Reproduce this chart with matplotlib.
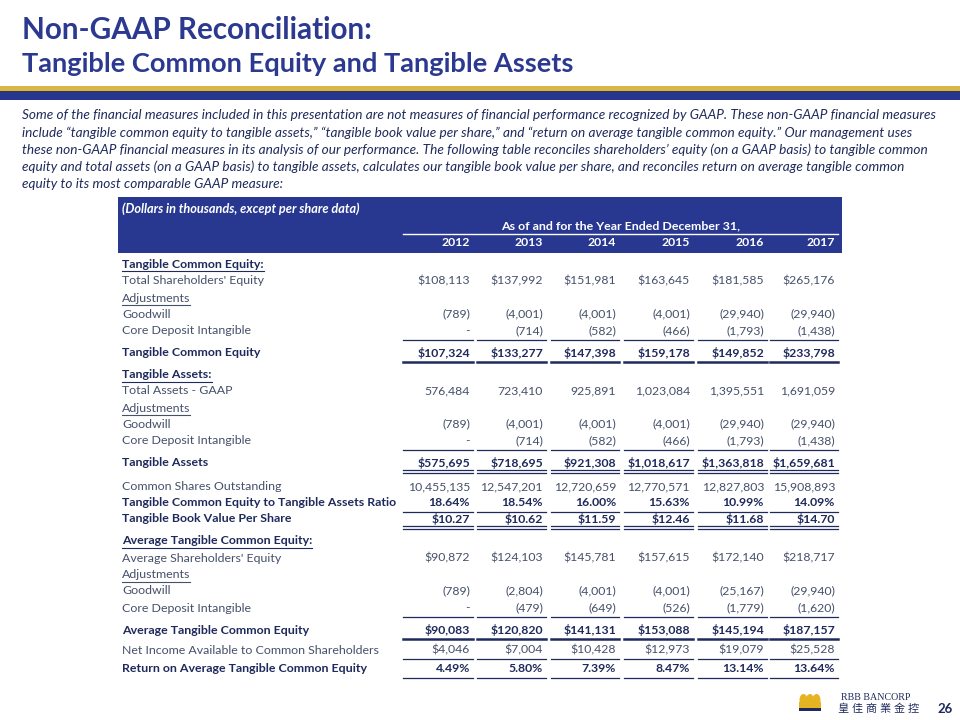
import matplotlib.pyplot as plt
from matplotlib.patches import Rectangle, Ellipse

# -------------------------
# Data (dollars in thousands)
# -------------------------
years = [2012, 2013, 2014, 2015, 2016, 2017]

tot_equity = [108113, 137992, 151981, 163645, 181585, 265176]
goodwill = [-789, -4001, -4001, -4001, -29940, -29940]
core_dep = [0, -714, -582, -466, -1793, -1438]
tang_equity = [107324, 133277, 147398, 159178, 149852, 233798]

tot_assets = [576484, 723410, 925891, 1023084, 1395551, 1691059]
tang_assets = [575695, 718695, 921308, 1018617, 1363818, 1659681]

shares_out = [10455135, 12547201, 12720659, 12770571, 12827803, 15908893]
tce_ratio = [18.64, 18.54, 16.00, 15.63, 10.99, 14.09]
tbv_share = [10.27, 10.62, 11.59, 12.46, 11.68, 14.70]

avg_equity = [90872, 124103, 145781, 157615, 172140, 218717]
avg_goodwill = [-789, -2804, -4001, -4001, -25167, -29940]
avg_core_dep = [0, -479, -649, -526, -1779, -1620]
avg_tang_equity = [90083, 120820, 141131, 153088, 145194, 187157]

net_income = [4046, 7004, 10428, 12973, 19079, 25528]
rotce = [4.49, 5.80, 7.39, 8.47, 13.14, 13.64]

intro = [
    "Some of the financial measures included in this presentation are not measures of financial performance recognized by GAAP. These non-GAAP financial measures",
    "include \u201ctangible common equity to tangible assets,\u201d \u201ctangible book value per share,\u201d and \u201creturn on average tangible common equity.\u201d Our management uses",
    "these non-GAAP financial measures in its analysis of our performance. The following table reconciles shareholders\u2019 equity (on a GAAP basis) to tangible common",
    "equity and total assets (on a GAAP basis) to tangible assets, calculates our tangible book value per share, and reconciles return on average tangible common",
    "equity to its most comparable GAAP measure:",
]

# -------------------------
# Styling
# -------------------------
BLUE = "#2b3990"
NAVY = "#1f2a5c"
GREY = "#45506a"
GOLD = "#d9b44a"
FONT = ["Lato", "DejaVu Sans"]
FS = 8.9      # table label size
FS_NUM = 8.8  # table number size


def fmt(v, kind):
    if kind == "pct":
        return f"{v:.2f}%"
    if kind == "usd2":
        return f"${v:.2f}"
    if v == 0:
        return "-"
    if v < 0:
        return f"({-v:,})"
    if kind == "usd":
        return f"${v:,}"
    return f"{v:,}"


# label, values, format, style, y (px), line below
rows = [
    ("Tangible Common Equity:", None, None, "sec", 264, None),
    ("Total Shareholders' Equity", tot_equity, "usd", "norm", 281, None),
    ("Adjustments", None, None, "ul", 298, None),
    ("Goodwill", goodwill, "usd", "norm", 314, None),
    ("Core Deposit Intangible", core_dep, "usd", "norm", 331, "thin"),
    ("Tangible Common Equity", tang_equity, "usd", "bold", 353, "thick"),
    ("Tangible Assets:", None, None, "sec", 375, None),
    ("Total Assets - GAAP", tot_assets, "num", "norm", 391, None),
    ("Adjustments", None, None, "ul", 408, None),
    ("Goodwill", goodwill, "usd", "norm", 424, None),
    ("Core Deposit Intangible", core_dep, "usd", "norm", 441, "thin"),
    ("Tangible Assets", tang_assets, "usd", "bold", 463, "double"),
    ("Common Shares Outstanding", shares_out, "num", "norm", 487, None),
    ("Tangible Common Equity to Tangible Assets Ratio", tce_ratio, "pct", "bold", 503, "thin"),
    ("Tangible Book Value Per Share", tbv_share, "usd2", "bold", 519, "double"),
    ("Average Tangible Common Equity:", None, None, "sec", 541, None),
    ("Average Shareholders' Equity", avg_equity, "usd", "norm", 558, None),
    ("Adjustments", None, None, "ul", 575, None),
    ("Goodwill", avg_goodwill, "usd", "norm", 591, None),
    ("Core Deposit Intangible", avg_core_dep, "usd", "norm", 608, "thin"),
    ("Average Tangible Common Equity", avg_tang_equity, "usd", "bold", 630, "thick"),
    ("Net Income Available to Common Shareholders", net_income, "usd", "norm", 650, "thin"),
    ("Return on Average Tangible Common Equity", rotce, "pct", "bold", 669, "thin"),
]

col_left = [403, 477, 551, 624, 698, 770]
col_right = [473, 546, 619, 693, 767, 838]

fig = plt.figure(figsize=(9.6, 7.2), dpi=100)
ax = fig.add_axes([0, 0, 1, 1])
ax.set_xlim(0, 960)
ax.set_ylim(720, 0)
ax.axis("off")
renderer = fig.canvas.get_renderer()

# -------------------------
# Title and banner
# -------------------------
ax.text(22, 30, "Non-GAAP Reconciliation:", fontsize=21.3, fontweight="bold",
        color=BLUE, family=FONT, va="center")
ax.text(22, 64, "Tangible Common Equity and Tangible Assets", fontsize=19.6,
        fontweight="bold", color=BLUE, family=FONT, va="center")
ax.add_patch(Rectangle((0, 86), 960, 5, color=GOLD, lw=0))
ax.add_patch(Rectangle((0, 91), 960, 1.2, color="#3a3a3a", lw=0))
ax.add_patch(Rectangle((0, 92), 960, 8, color="#27368f", lw=0))

for i, line in enumerate(intro):
    ax.text(22, 115 + i * 17.3, line, fontsize=9.8, style="italic",
            color=NAVY, family=FONT, va="center")

# -------------------------
# Table header
# -------------------------
ax.add_patch(Rectangle((118, 197), 724, 56, color="#283891", lw=0))
ax.text(122, 209, "(Dollars in thousands, except per share data)", fontsize=9.2,
        fontweight="bold", style="italic", color="white", family=FONT, va="center")
ax.text((col_left[0] + col_right[-1]) / 2, 226, "As of and for the Year Ended December 31,",
        fontsize=FS, fontweight="bold", color="white", family=FONT,
        va="center", ha="center")
ax.plot([col_left[0], col_right[-1]], [234, 234], color="white", lw=1)
for j, yr in enumerate(years):
    ax.text(col_right[j] - 3, 243, str(yr), fontsize=FS_NUM, fontweight="bold",
            color="white", family=FONT, va="center", ha="right")

# -------------------------
# Table body
# -------------------------
for label, vals, kind, style, y, line in rows:
    bold = style in ("sec", "bold")
    color = NAVY if bold else GREY
    t = ax.text(122, y, label, fontsize=FS, fontweight="bold" if bold else "normal",
                color=color, family=FONT, va="center")
    if style in ("sec", "ul"):
        bb = t.get_window_extent(renderer)
        ax.plot([bb.x0, bb.x1], [y + 7, y + 7], color=color, lw=0.8)
    if vals is None:
        continue
    for j, v in enumerate(vals):
        ax.text(col_right[j] - 3, y, fmt(v, kind), fontsize=FS_NUM,
                fontweight="bold" if bold else "normal", color=color,
                family=FONT, va="center", ha="right")
    for j in range(len(vals)):
        xs = [col_left[j], col_right[j]]
        if line == "thin":
            ax.plot(xs, [y + 9, y + 9], color=NAVY, lw=0.9)
        elif line == "thick":
            ax.plot(xs, [y + 9, y + 9], color=NAVY, lw=1.8)
        elif line == "double":
            ax.plot(xs, [y + 7, y + 7], color=NAVY, lw=0.9)
            ax.plot(xs, [y + 10, y + 10], color=NAVY, lw=0.9)

# -------------------------
# Footer logo and page number
# -------------------------
for cx in (803.5, 810, 816.5):
    ax.add_patch(Ellipse((cx, 700), 8, 12, color="#e6b422", lw=0))
ax.add_patch(Rectangle((799, 702), 22, 6, color="#e6b422", lw=0))
ax.add_patch(Rectangle((799, 708), 22, 2.5, color=NAVY, lw=0))
ax.text(876, 697, "RBB BANCORP", fontsize=7.2, color=NAVY,
        family=["Liberation Serif", "DejaVu Serif"], va="center", ha="center")
for k, ch in enumerate("\u7687\u4f73\u5546\u696d\u91d1\u63a7"):
    ax.text(843 + k * 14, 709, ch, fontsize=8, color=NAVY,
            family=["Noto Sans CJK TC", "DejaVu Sans"], va="center", ha="center")
ax.text(937, 709, "26", fontsize=9.5, fontweight="bold", color=NAVY,
        family=FONT, va="center")

fig.savefig("out.png", dpi=100)
